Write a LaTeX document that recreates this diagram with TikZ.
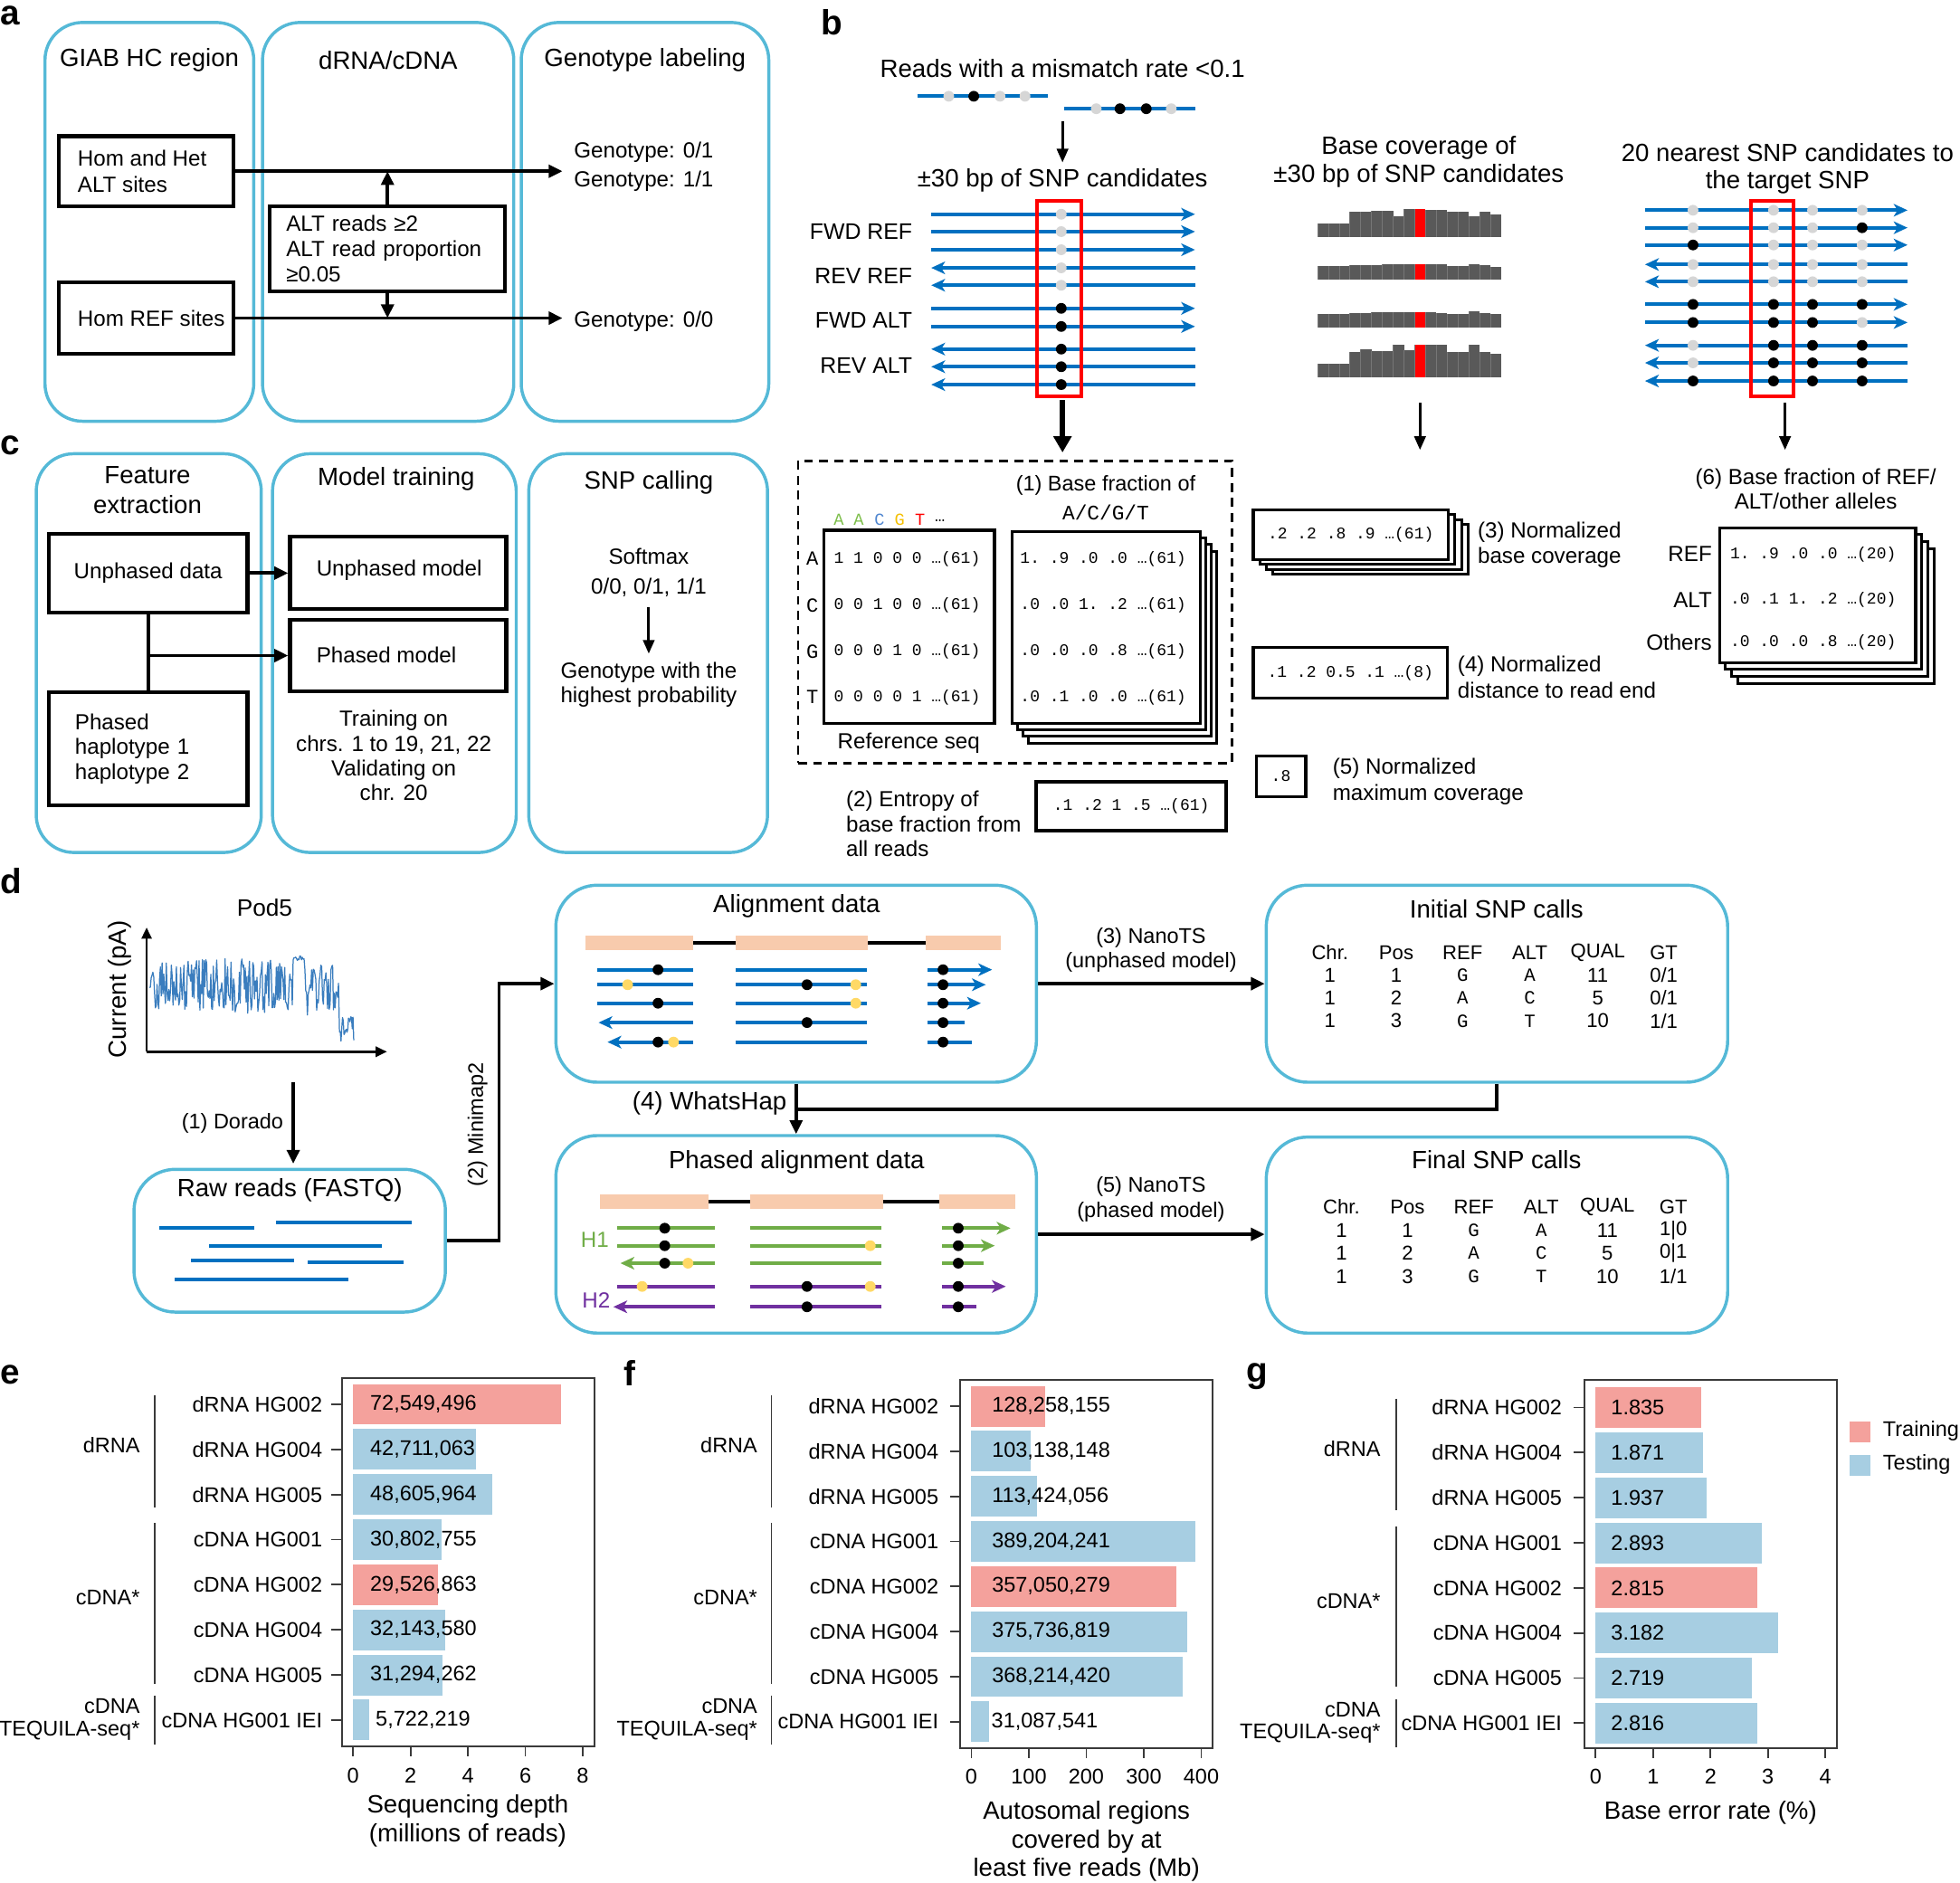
\documentclass[tikz,border=0pt]{standalone}
\usepackage{fontspec}
\setmainfont{Liberation Sans}
\setmonofont{Liberation Mono}
\usetikzlibrary{arrows.meta,calc}
\definecolor{cyanc}{HTML}{55B9D7}
\definecolor{readb}{HTML}{0070C0}
\definecolor{dotg}{HTML}{D6D6D6}
\definecolor{peach}{HTML}{F8CBAD}
\definecolor{hgreen}{HTML}{70AD47}
\definecolor{hpurp}{HTML}{7030A0}
\definecolor{dyel}{HTML}{FFD966}
\definecolor{histc}{HTML}{595959}
\definecolor{histl}{HTML}{767676}
\definecolor{trc}{HTML}{F4A19C}
\definecolor{tec}{HTML}{A7CEE2}
\definecolor{sigc}{HTML}{3A7DBE}
\definecolor{frc}{HTML}{3A3A3A}
\definecolor{lA}{HTML}{7DBE4A}
\definecolor{lC}{HTML}{4F86D0}
\definecolor{lG}{HTML}{F5C000}
\definecolor{redc}{HTML}{FF0000}
\newcommand\fzT{\fontsize{20}{23}\selectfont}
\newcommand\fzN{\fontsize{17.5}{20.5}\selectfont}
\newcommand\fzS{\fontsize{16}{19}\selectfont}
\newcommand\fzB{\fontsize{17}{20}\selectfont}
\newcommand\fzM{\fontsize{13}{15}\selectfont\ttfamily}
\newcommand\fzL{\fontsize{28}{30}\selectfont\bfseries}
\tikzset{
  cbox/.style={draw=cyanc,line width=2.5pt,rounded corners=30pt,inner sep=0pt},
  dbox/.style={draw=cyanc,line width=2.5pt,rounded corners=33pt,inner sep=0pt},
  kbox/.style={draw=black,line width=3pt,inner sep=0pt},
  fbox/.style={draw=black,line width=2.2pt,fill=white,inner sep=0pt},
  arr/.style={line width=2.8pt,-{Triangle[length=11pt,width=10pt]}},
  arrt/.style={line width=2.2pt,-{Triangle[length=11pt,width=9pt]}},
  arrk/.style={line width=4.5pt,-{Triangle[length=13pt,width=14pt]}},
  txt/.style={inner sep=0pt,font=\fzN},
  ttl/.style={inner sep=0pt,font=\fzT},
  lbl/.style={inner sep=0pt,font=\fzL},
  mono/.style={inner sep=0pt,font=\fzM},
  tb/.style={inner sep=0pt,font=\fzS},
  tbm/.style={inner sep=0pt,font=\fontsize{15}{17}\selectfont\ttfamily},
  read/.style={draw=readb,line width=3pt},
  rg/.style={draw=hgreen,line width=3pt},
  rp/.style={draw=hpurp,line width=3pt},
  rdR/.style={-{Stealth[length=11pt,width=10pt,inset=3pt]}},
  rdL/.style={{Stealth[length=11pt,width=10pt,inset=3pt]}-},
  gdot/.style={fill=dotg},
  kdot/.style={fill=black},
  ydot/.style={fill=dyel},
}
\newcommand\mydot[3]{\fill[#1] (#2,#3) circle[radius=4.3pt];}
\newcommand\mystack[7]{%
  \foreach \k in {3,2,1}{\draw[line width=2.2pt,fill=white] ({#2-#4/2+\k*#6},{#3-#5/2+\k*#7}) rectangle ({#2+#4/2+\k*#6},{#3+#5/2+\k*#7});}
  \node[fbox,minimum width=#4pt,minimum height=#5pt] (#1) at (#2,#3) {};}
\newcommand\myhist[2]{%
  \foreach \t [count=\i from 0] in {#2}{\fill[histc] ({1054+8.65*\i},\t) rectangle ({1054+8.65*(\i+1)},#1);
  \draw[histl,line width=0.5pt] ({1054+8.65*\i},\t) -- ({1054+8.65*\i},#1);}}
\newcommand\mybar[8]{%
  \fill[#6] (#2,#4-16.25) rectangle ({#2+#3*#5},#4+16.25);
  \node[font=\fzB,anchor=west,inner sep=0pt] (#1) at (#7,#4) {#8};}
\newcommand\mycat[5]{%
  \draw[frc,line width=1.3pt] (#2-8.2,#3) -- (#2,#3);
  \node[font=\fzB,anchor=east,inner sep=0pt] (#1) at (#4,#3) {#5};}
\newcommand\mytick[5]{%
  \draw[frc,line width=1.3pt] (#2,#3) -- (#2,#3+7.8);
  \node[font=\fzB,inner sep=0pt] (#1) at (#2,#4) {#5};}
\begin{document}
\begin{tikzpicture}[x=1pt,y=-1pt]
\useasboundingbox (0,0) rectangle (1568,1506);
\fill[white] (0,0) rectangle (1568,1506);
% ================= panel a
\node[lbl,anchor=base west] (la) at (0,20) {a};
\node[cbox,minimum width=167pt,minimum height=319pt] (a1) at (119.5,177.5) {};
\node[cbox,minimum width=201pt,minimum height=319pt] (a2) at (310.5,177.5) {};
\node[cbox,minimum width=198pt,minimum height=319pt] (a3) at (516,177.5) {};
\node[ttl] (a1t) at (119.5,48) {GIAB HC region};
\node[ttl] (a2t) at (310.5,48) {dRNA/cDNA};
\node[ttl] (a3t) at (516,48) {Genotype labeling};
\node[kbox,minimum width=140pt,minimum height=56pt] (hh) at (117,137) {};
\node[txt,anchor=west,align=left] (hht) at (62,137) {Hom and Het\\ALT sites};
\node[kbox,minimum width=140pt,minimum height=57pt] (hr) at (117,254.5) {};
\node[txt,anchor=west] (hrt) at (62,254.5) {Hom REF sites};
\node[kbox,text width=162pt,inner xsep=13pt,minimum height=68pt,align=left,font=\fontsize{17.5}{20}\selectfont] (alt) at (310,199) {ALT reads ≥2\\ALT read proportion\\≥0.05};
\node[txt,anchor=west,align=left,font=\fontsize{17.5}{23}\selectfont] (g1) at (459,133.5) {Genotype: 0/1\\Genotype: 1/1};
\node[txt,anchor=west] (g0) at (459,257) {Genotype: 0/0};
\draw[arr] (hh.east) -- ([xshift=-9pt]g1.west |- hh.east);
\draw[arr] (hr.east) -- ([xshift=-9pt]g0.west |- hr.east);
\draw[arr] (alt.north) -- (alt.north |- hh.east);
\draw[arr] (alt.south) -- (alt.south |- hr.east);
% ================= panel c
\node[lbl,anchor=base west] (lc) at (0,364) {c};
\node[cbox,minimum width=180pt,minimum height=319pt] (c1) at (119,522.5) {};
\node[cbox,minimum width=195pt,minimum height=319pt] (c2) at (315.5,522.5) {};
\node[cbox,minimum width=191pt,minimum height=319pt] (c3) at (518.5,522.5) {};
\node[ttl,align=center,font=\fontsize{20}{24}\selectfont] (c1t) at (118,392) {Feature\\extraction};
\node[ttl] (c2t) at (317,383) {Model training};
\node[ttl] (c3t) at (519,386) {SNP calling};
\node[kbox,minimum width=159pt,minimum height=63pt,font=\fzN] (ud) at (118.5,458.5) {Unphased data};
\node[kbox,text width=117pt,inner xsep=21pt,minimum height=90pt,align=left,font=\fontsize{17.5}{20}\selectfont] (pd) at (118.5,599) {Phased\\haplotype 1\\haplotype 2};
\node[kbox,minimum width=173pt,minimum height=58pt] (um) at (318.5,458) {};
\node[txt,anchor=west] (umt) at (253,456.5) {Unphased model};
\node[kbox,minimum width=173pt,minimum height=57pt] (pm) at (318.5,524.5) {};
\node[txt,anchor=west] (pmt) at (253,524) {Phased model};
\draw[arr] (ud.east) -- (ud.east -| um.west);
\draw[line width=2.8pt] (ud.south) -- (pd.north);
\draw[arr] (ud.south |- pm.west) -- (pm.west);
\node[txt,align=center,font=\fontsize{17.5}{19.7}\selectfont] (trn) at (315,604.5) {Training on\\chrs. 1 to 19, 21, 22\\Validating on\\chr. 20};
\node[txt,align=center,font=\fontsize{17.5}{24}\selectfont] (smx) at (519,458) {Softmax\\0/0, 0/1, 1/1};
\node[txt,align=center,font=\fontsize{17.5}{19.5}\selectfont] (ghp) at (519,547.5) {Genotype with the\\highest probability};
\coordinate (sm1) at (519,486);
\coordinate (sm2) at (519,523);
\draw[arrt] (sm1) -- (sm2);
% ================= panel b top
\node[lbl,anchor=base west] (lb) at (657,27.8) {b};
\node[ttl] (bt1) at (850,55) {Reads with a mismatch rate <0.1};
\draw[read] (734,77) -- (838,77);
\mydot{gdot}{759}{77}\mydot{kdot}{779}{77}\mydot{gdot}{800}{77}\mydot{gdot}{820}{77}
\draw[read] (851,87) -- (956,87);
\mydot{gdot}{877}{87}\mydot{kdot}{896}{87}\mydot{kdot}{917}{87}\mydot{gdot}{937}{87}
\coordinate (ba1) at (850,97);
\coordinate (ba2) at (850,130);
\draw[arrt] (ba1) -- (ba2);
\node[ttl] (bt2) at (850,144) {±30 bp of SNP candidates};
\foreach \y/\d/\s in {171.4/rdR/gdot,185.3/rdR/gdot,199.8/rdR/gdot,214.3/rdL/gdot,228.2/rdL/gdot,246.7/rdR/kdot,261.2/rdR/kdot,279.3/rdL/kdot,293.4/rdL/kdot,307.7/rdL/kdot}{
  \draw[read,\d] (745,\y) -- (956,\y);
  \fill[\s] (849,\y) circle[radius=4.3pt];}
\node[draw=redc,line width=3pt,minimum width=35.4pt,minimum height=156.5pt,inner sep=0pt] (rb1) at (847.3,238.75) {};
\node[txt,anchor=east,font=\fontsize{18}{20}\selectfont] (fr) at (730,185) {FWD REF};
\node[txt,anchor=east,font=\fontsize{18}{20}\selectfont] (rr1) at (730,221) {REV REF};
\node[txt,anchor=east,font=\fontsize{18}{20}\selectfont] (fa) at (730,256) {FWD ALT};
\node[txt,anchor=east,font=\fontsize{18}{20}\selectfont] (ra) at (730,292.5) {REV ALT};
% histograms
\node[ttl,align=center,font=\fontsize{20}{23}\selectfont] (bt3) at (1135,129.5) {Base coverage of\\±30 bp of SNP candidates};
\myhist{189.9}{178.6,178.6,178.6,169.6,169.6,168.9,168.9,172.8,167.2,167.2,168.2,168.2,169.6,169.6,172.8,169.4,171.3}
\myhist{223.9}{212.8,212.8,212.8,212.4,212.4,212.4,211.6,211.6,211.6,211.6,211.6,211.6,212.8,212.8,211.6,212.4,213.3}
\myhist{262.3}{251,251,251,250.5,250.5,250,249.5,249.5,249.5,249.5,249.5,250.5,251,251,249,250.5,251.4}
\myhist{302.1}{290.8,290.8,290.8,281.6,279.4,280.9,280.9,275.8,279.9,275.8,275.8,275.8,281.6,281.6,275.8,281.6,283.3}
\fill[redc] (1131.85,167.2) rectangle (1140.5,189.9);
\fill[redc] (1131.85,211.6) rectangle (1140.5,223.9);
\fill[redc] (1131.85,249.5) rectangle (1140.5,262.3);
\fill[redc] (1131.85,275.8) rectangle (1140.5,302.1);
% right reads
\node[ttl,align=center,font=\fontsize{20}{22}\selectfont] (bt4) at (1430,135) {20 nearest SNP candidates to\\the target SNP};
\foreach \y/\d/\p/\q/\r/\s in {168.2/rdR/gdot/gdot/gdot/gdot,182.2/rdR/gdot/gdot/gdot/kdot,196/rdR/kdot/gdot/gdot/gdot,211.6/rdL/gdot/gdot/gdot/gdot,225.4/rdL/gdot/gdot/gdot/gdot,243.5/rdR/kdot/kdot/kdot/kdot,258/rdR/kdot/kdot/kdot/gdot,276.3/rdL/gdot/kdot/kdot/kdot,290.3/rdL/gdot/kdot/kdot/kdot,304.8/rdL/kdot/kdot/kdot/kdot}{
  \draw[read,\d] (1316,\y) -- (1526,\y);
  \fill[\p] (1354.4,\y) circle[radius=4.3pt];
  \fill[\q] (1418.8,\y) circle[radius=4.3pt];
  \fill[\r] (1450,\y) circle[radius=4.3pt];
  \fill[\s] (1489.7,\y) circle[radius=4.3pt];}
\node[draw=redc,line width=3pt,minimum width=34.1pt,minimum height=156.3pt,inner sep=0pt] (rb2) at (1417.75,238.65) {};
% ================= panel b lower
\node[draw=black,line width=2pt,dash pattern=on 7pt off 5pt,minimum width=347pt,minimum height=241.9pt,inner sep=0pt] (dash) at (812,489.55) {};
\draw[arrk] (850,320) -- (850 ,362);
\coordinate (hc1) at (1136,322);
\coordinate (hc2) at (1136,360);
\draw[arrt] (hc1) -- (hc2);
\coordinate (rc1) at (1428,322);
\coordinate (rc2) at (1428,360);
\draw[arrt] (rc1) -- (rc2);
\node[txt,font=\fontsize{17}{20}\selectfont] (bf1) at (884.6,388.6) {(1) Base fraction of};
\node[inner sep=0pt,font=\fontsize{16.5}{18}\selectfont\ttfamily] (bf2) at (884.6,409.9) {A/C/G/T};
\node[inner sep=0pt,font=\fontsize{13.5}{15}\selectfont\ttfamily,text=lA] (s1) at (671,415.7) {A};
\node[inner sep=0pt,font=\fontsize{13.5}{15}\selectfont\ttfamily,text=lA] (s2) at (687,415.7) {A};
\node[inner sep=0pt,font=\fontsize{13.5}{15}\selectfont\ttfamily,text=lC] (s3) at (703.6,415.7) {C};
\node[inner sep=0pt,font=\fontsize{13.5}{15}\selectfont\ttfamily,text=lG] (s4) at (719.7,415.7) {G};
\node[inner sep=0pt,font=\fontsize{13.5}{15}\selectfont\ttfamily,text=redc] (s5) at (736,415.7) {T};
\node[inner sep=0pt,font=\fontsize{13.5}{15}\selectfont\ttfamily] (s6) at (752,416.5) {…};
\node[fbox,line width=2.5pt,minimum width=136.7pt,minimum height=154.4pt] (rs) at (727.35,501.4) {};
\foreach \y/\l/\r [count=\n] in {447.1/A/1 1 0 0 0 …(61),484.5/C/0 0 1 0 0 …(61),521.2/G/0 0 0 1 0 …(61),557.9/T/0 0 0 0 1 …(61)}{
  \node[inner sep=0pt,font=\fontsize{16}{18}\selectfont\ttfamily] (rl\n) at (649.8,\y) {\l};
  \node[mono,anchor=west] (rt\n) at (667,\y) {\r};}
\node[txt] (rsq) at (727,594.8) {Reference seq};
\mystack{bf}{884.75}{501.8}{150.5}{153.6}{4.5}{5.3}
\foreach \y/\r [count=\n] in {447.1/1. .9 .0 .0 …(61),484.5/.0 .0 1. .2 …(61),521.2/.0 .0 .0 .8 …(61),557.9/.0 .1 .0 .0 …(61)}{
  \node[mono,anchor=west] (bt\n) at (816,\y) {\r};}
\node[fbox,line width=2.5pt,minimum width=152pt,minimum height=39.2pt,font=\fzM] (ent) at (905,645.1) {.1 .2 1 .5 …(61)};
\node[txt,anchor=west,align=left,font=\fontsize{17.5}{19.8}\selectfont] (entl) at (676.7,659.1) {(2) Entropy of\\base fraction from\\all reads};
\mystack{nc}{1080.6}{427.7}{156}{39.8}{5.3}{4}
\node[mono] (nct) at (1080.6,427.7) {.2 .2 .8 .9 …(61)};
\node[txt,anchor=west,align=left,font=\fontsize{17.5}{20.7}\selectfont] (ncl) at (1182,436) {(3) Normalized\\base coverage};
\node[fbox,minimum width=155.3pt,minimum height=40.3pt,font=\fzM] (nd) at (1080.25,538.45) {.1 .2 0.5 .1 …(8)};
\node[txt,anchor=west,align=left,font=\fontsize{17.5}{20.8}\selectfont] (ndl) at (1166,541.7) {(4) Normalized\\distance to read end};
\node[fbox,minimum width=39.8pt,minimum height=33pt,font=\fzM] (nm) at (1024.7,621) {.8};
\node[txt,anchor=west,align=left,font=\fontsize{17.5}{21}\selectfont] (nml) at (1066,625.3) {(5) Normalized\\maximum coverage};
\node[txt,align=center,font=\fontsize{17.5}{19.7}\selectfont] (b6t) at (1452.6,391) {(6) Base fraction of REF/\\ALT/other alleles};
\mystack{b6}{1454}{476.2}{157}{107.8}{4.9}{5.5}
\foreach \y/\l/\r [count=\n] in {443.5/REF/1. .9 .0 .0 …(20),480.2/ALT/.0 .1 1. .2 …(20),514/Others/.0 .0 .0 .8 …(20)}{
  \node[txt,anchor=east] (sl\n) at (1369.7,\y) {\l};
  \node[mono,anchor=west] (st\n) at (1384,\y) {\r};}
% ================= panel d
\node[lbl,anchor=base west] (ld) at (0,715) {d};
\node[txt,font=\fontsize{19}{21}\selectfont] (pod) at (211.7,726.3) {Pod5};
\coordinate (ax0) at (117.3,841.4);
\coordinate (axy) at (117.3,742);
\coordinate (axx) at (309.6,841.4);
\draw[line width=2pt,-{Triangle[length=9pt,width=8pt]}] (ax0) -- (axy);
\draw[line width=2pt,-{Triangle[length=9pt,width=8pt]}] (ax0) -- (axx);
\node[txt,rotate=90,font=\fontsize{20}{22}\selectfont] (cur) at (95.9,791.5) {Current (pA)};
\pgfmathsetseed{11}
\draw[sigc,line width=0.9pt,line join=round] (119.6,790)
  \foreach \i in {1,...,170}{ -- ({119.6+0.672*\i},{789+22*rand}) }
  \foreach \i in {171,...,184}{ -- ({119.6+0.672*\i},{767+2.5*rand}) }
  \foreach \i in {185,...,225}{ -- ({119.6+0.672*\i},{792+21*rand}) }
  \foreach \i in {1,...,20}{ -- ({271+0.6*\i},{823+10*rand}) };
\node[txt,font=\fontsize{17}{20}\selectfont] (dor) at (186,898.4) {(1) Dorado};
\node[dbox,minimum width=249.1pt,minimum height=114.2pt] (raw) at (231.75,992.6) {};
\coordinate (dr1) at (234.6,865.8);
\coordinate (dr2) at (234.6,931);
\draw[arr] (dr1) -- (dr2);
\node[ttl] (rawt) at (231.8,952) {Raw reads (FASTQ)};
\draw[read] (127.5,982.1) -- (203.2,982.1);
\draw[read] (221,977.8) -- (329.5,977.8);
\draw[read] (167.2,996.6) -- (305.6,996.6);
\draw[read] (153.1,1008.6) -- (235.5,1008.6);
\draw[read] (246.4,1010) -- (323,1010);
\draw[read] (140,1023.4) -- (278.4,1023.4);
\node[dbox,minimum width=384.4pt,minimum height=157.6pt] (al) at (636.9,787) {};
\node[dbox,minimum width=384.4pt,minimum height=158pt] (ph) at (636.9,987.5) {};
\node[dbox,minimum width=369.1pt,minimum height=157.6pt] (is) at (1197.55,787) {};
\node[dbox,minimum width=369.1pt,minimum height=156.8pt] (fs) at (1197.55,988.1) {};
\coordinate (mm) at (399.2,900);
\draw[arr,line join=miter] (raw.east) -| (mm) |- (al.west);
\node[txt,rotate=90,font=\fontsize{17}{20}\selectfont] (mmt) at (382,900) {(2) Minimap2};
\node[ttl] (alt2) at (637.3,725.1) {Alignment data};
\fill[peach] (468.2,748.5) rectangle (554.8,760.1);
\fill[peach] (588.5,748.5) rectangle (694.4,760.1);
\fill[peach] (740.2,748.5) rectangle (800.4,760.1);
\draw[line width=2.5pt] (554.8,754.3) -- (588.5,754.3);
\draw[line width=2.5pt] (694.4,754.3) -- (740.2,754.3);
% group 1
\draw[read] (478,775.8) -- (554.8,775.8); \mydot{kdot}{526.4}{775.8}
\draw[read] (478,787.8) -- (554.8,787.8); \mydot{ydot}{502.1}{787.8}
\draw[read] (478,802.6) -- (554.8,802.6); \mydot{kdot}{526.4}{802.6}
\draw[read,rdL] (478.8,818.1) -- (554.8,818.1);
\draw[read,rdL] (486,833.7) -- (554.8,833.7); \mydot{kdot}{526.4}{833.7}\mydot{ydot}{538.8}{833.7}
% group 2
\draw[read] (588.5,775.8) -- (693.4,775.8);
\draw[read] (588.5,787.8) -- (693.4,787.8); \mydot{kdot}{645.6}{787.8}\mydot{ydot}{684.6}{787.8}
\draw[read] (588.5,802.6) -- (693.4,802.6); \mydot{ydot}{684.6}{802.6}
\draw[read] (588.5,818.1) -- (693.4,818.1); \mydot{kdot}{645.6}{818.1}
\draw[read] (588.5,833.7) -- (693.4,833.7);
% group 3
\draw[read,rdR] (742,775.8) -- (793.7,775.8); \mydot{kdot}{754.4}{775.8}
\draw[read,rdR] (742,787.8) -- (788.6,787.8); \mydot{kdot}{754.4}{787.8}
\draw[read,rdR] (742,802.6) -- (784.7,802.6); \mydot{kdot}{754.4}{802.6}
\draw[read] (742,818.1) -- (771.7,818.1); \mydot{kdot}{754.4}{818.1}
\draw[read] (742,833.7) -- (777.7,833.7); \mydot{kdot}{754.4}{833.7}
% whatshap
\coordinate (wh) at (636.9,887.3);
\draw[line width=3pt] (is.south) |- (wh);
\draw[arr] (al.south) -- (ph.north);
\node[ttl,anchor=east] (wht) at (629.5,882.7) {(4) WhatsHap};
\node[ttl] (pht) at (637.3,929.5) {Phased alignment data};
\fill[peach] (479.9,955.6) rectangle (566.5,967);
\fill[peach] (599.8,955.6) rectangle (706.3,967);
\fill[peach] (751.6,955.6) rectangle (812.1,967);
\draw[line width=2.5pt] (566.5,961.3) -- (599.8,961.3);
\draw[line width=2.5pt] (706.3,961.3) -- (751.6,961.3);
\draw[rg] (493.8,982.6) -- (571.6,982.6); \mydot{kdot}{531.8}{982.6}
\draw[rg] (493.8,996.6) -- (571.6,996.6); \mydot{kdot}{531.8}{996.6}
\draw[rg,rdL] (496.4,1010.6) -- (571.6,1010.6); \mydot{kdot}{531.8}{1010.6}\mydot{ydot}{550.4}{1010.6}
\draw[rp] (493.8,1029.2) -- (571.6,1029.2); \mydot{ydot}{513.7}{1029.2}
\draw[rp,rdL] (490.7,1045.5) -- (571.6,1045.5);
\draw[rg] (599.8,982.6) -- (704.8,982.6);
\draw[rg] (599.8,996.6) -- (704.8,996.6); \mydot{ydot}{696.2}{996.6}
\draw[rg] (599.8,1010.6) -- (704.8,1010.6);
\draw[rp] (599.8,1029.2) -- (704.8,1029.2); \mydot{kdot}{645.6}{1029.2}\mydot{ydot}{696.2}{1029.2}
\draw[rp] (599.8,1045.5) -- (704.8,1045.5); \mydot{kdot}{645.6}{1045.5}
\draw[rg,rdR] (753.6,982.6) -- (808.4,982.6); \mydot{kdot}{766.6}{982.6}
\draw[rg,rdR] (753.6,996.6) -- (795.8,996.6); \mydot{kdot}{766.6}{996.6}
\draw[rg] (753.6,1010.6) -- (787.2,1010.6); \mydot{kdot}{766.6}{1010.6}
\draw[rp,rdR] (753.6,1029.2) -- (804.6,1029.2); \mydot{kdot}{766.6}{1029.2}
\draw[rp] (753.6,1045.5) -- (780.8,1045.5); \mydot{kdot}{766.6}{1045.5}
\node[txt,text=hgreen] (h1) at (475.8,991.8) {H1};
\node[txt,text=hpurp] (h2) at (477,1040) {H2};
% nanots arrows
\draw[arr] (al.east) -- (is.west);
\draw[arr] (ph.east) -- (ph.east -| fs.west);
\node[txt,align=center,font=\fontsize{17}{19.7}\selectfont] (n3) at (920.8,759.9) {(3) NanoTS\\(unphased model)};
\node[txt,align=center,font=\fontsize{17}{20}\selectfont] (n5) at (920.8,959.5) {(5) NanoTS\\(phased model)};
\node[ttl] (ist) at (1197.2,727.5) {Initial SNP calls};
\node[ttl] (fst) at (1197.2,927.8) {Final SNP calls};
% initial table
\foreach \x/\h [count=\n] in {1064/Chr.,1117/Pos,1170/REF,1223.9/ALT,1278.2/QUAL,1331/GT}{\node[tb] (ih\n) at (\x,762) {\h};}
\foreach \y [count=\n] in {780.1,798.2,816.8}{\node[tb] (ic\n) at (1064,\y) {1};\node[tb] (ip\n) at (1117,\y) {\n};}
\node[tbm] (ir1) at (1170,780.1) {G};\node[tbm] (ir2) at (1170,798.2) {A};\node[tbm] (ir3) at (1170,816.8) {G};
\node[tbm] (ia1) at (1223.9,780.1) {A};\node[tbm] (ia2) at (1223.9,798.2) {C};\node[tbm] (ia3) at (1223.9,816.8) {T};
\node[tb] (iq1) at (1278.2,780.1) {11};\node[tb] (iq2) at (1278.2,798.2) {5};\node[tb] (iq3) at (1278.2,816.8) {10};
\node[tb] (ig1) at (1331,780.1) {0/1};\node[tb] (ig2) at (1331,798.2) {0/1};\node[tb] (ig3) at (1331,816.8) {1/1};
% final table
\foreach \x/\h [count=\n] in {1073.2/Chr.,1126/Pos,1179/REF,1233/ALT,1285.9/QUAL,1338.7/GT}{\node[tb] (fh\n) at (\x,965.7) {\h};}
\foreach \y [count=\n] in {984.5,1002.6,1021.2}{\node[tb] (fc\n) at (1073.2,\y) {1};\node[tb] (fp\n) at (1126,\y) {\n};}
\node[tbm] (fr1) at (1179,984.5) {G};\node[tbm] (fr2) at (1179,1002.6) {A};\node[tbm] (fr3) at (1179,1021.2) {G};
\node[tbm] (fa1) at (1233,984.5) {A};\node[tbm] (fa2) at (1233,1002.6) {C};\node[tbm] (fa3) at (1233,1021.2) {T};
\node[tb] (fq1) at (1285.9,984.5) {11};\node[tb] (fq2) at (1285.9,1002.6) {5};\node[tb] (fq3) at (1285.9,1021.2) {10};
\node[tb] (fg1) at (1338.7,984.5) {1|0};\node[tb] (fg2) at (1338.7,1002.6) {0|1};\node[tb] (fg3) at (1338.7,1021.2) {1/1};
% ================= panel e
\node[lbl,anchor=base west] (le) at (0,1107.5) {e};
\node[draw=frc,line width=1.5pt,minimum width=202.2pt,minimum height=294.7pt,inner sep=0pt] (ef) at (374.5,1249.75) {};
\mybar{e1}{282.5}{22.96}{1123.5}{7.2549}{trc}{296}{72,549,496}
\mybar{e2}{282.5}{22.96}{1159.6}{4.2711}{tec}{296}{42,711,063}
\mybar{e3}{282.5}{22.96}{1195.7}{4.8606}{tec}{296}{48,605,964}
\mybar{e4}{282.5}{22.96}{1231.7}{3.0803}{tec}{296}{30,802,755}
\mybar{e5}{282.5}{22.96}{1267.8}{2.9527}{trc}{296}{29,526,863}
\mybar{e6}{282.5}{22.96}{1303.9}{3.2144}{tec}{296}{32,143,580}
\mybar{e7}{282.5}{22.96}{1340.0}{3.1294}{tec}{296}{31,294,262}
\mybar{e8}{282.5}{22.96}{1376.1}{0.5722}{tec}{300.4}{5,722,219}
\mycat{ec1}{273.4}{1123.5}{258}{dRNA HG002}
\mycat{ec2}{273.4}{1159.6}{258}{dRNA HG004}
\mycat{ec3}{273.4}{1195.7}{258}{dRNA HG005}
\mycat{ec4}{273.4}{1231.7}{258}{cDNA HG001}
\mycat{ec5}{273.4}{1267.8}{258}{cDNA HG002}
\mycat{ec6}{273.4}{1303.9}{258}{cDNA HG004}
\mycat{ec7}{273.4}{1340.0}{258}{cDNA HG005}
\mycat{ec8}{273.4}{1376.1}{258}{cDNA HG001 IEI}
\mytick{ex0}{282.5}{1397.1}{1420.4}{0}
\mytick{ex1}{328.4}{1397.1}{1420.4}{2}
\mytick{ex2}{374.3}{1397.1}{1420.4}{4}
\mytick{ex3}{420.3}{1397.1}{1420.4}{6}
\mytick{ex4}{466.2}{1397.1}{1420.4}{8}
\draw[frc,line width=1.3pt] (123.7,1116.3) -- (123.7,1205.7);
\draw[frc,line width=1.3pt] (123.7,1218.4) -- (123.7,1347.5);
\draw[frc,line width=1.3pt] (123.7,1356.6) -- (123.7,1395.5);
\node[font=\fzB,anchor=east,inner sep=0pt] (eg1) at (112,1156) {dRNA};
\node[font=\fzB,anchor=east,inner sep=0pt] (eg2) at (112,1278) {cDNA*};
\node[font=\fzB,anchor=east,inner sep=0pt] (eg3) at (112,1364.6) {cDNA};
\node[font=\fzB,anchor=east,inner sep=0pt] (eg4) at (112,1384.9) {TEQUILA-seq*};
\node[align=center,inner sep=0pt,font=\fontsize{20}{22.8}\selectfont] (ext) at (374.2,1456.8) {Sequencing depth\\(millions of reads)};
% ================= panel f
\node[lbl,anchor=base west] (lf) at (499,1109) {f};
\node[draw=frc,line width=1.5pt,minimum width=202pt,minimum height=295pt,inner sep=0pt] (ff) at (869.2,1251.3) {};
\mybar{f1}{777.1}{0.4597}{1125.0}{128.258}{trc}{793.4}{128,258,155}
\mybar{f2}{777.1}{0.4597}{1161.1}{103.138}{tec}{793.4}{103,138,148}
\mybar{f3}{777.1}{0.4597}{1197.1}{113.424}{tec}{793.4}{113,424,056}
\mybar{f4}{777.1}{0.4597}{1233.2}{389.204}{tec}{793.4}{389,204,241}
\mybar{f5}{777.1}{0.4597}{1269.2}{357.050}{trc}{793.4}{357,050,279}
\mybar{f6}{777.1}{0.4597}{1305.3}{375.737}{tec}{793.4}{375,736,819}
\mybar{f7}{777.1}{0.4597}{1341.4}{368.214}{tec}{793.4}{368,214,420}
\mybar{f8}{777.1}{0.4597}{1377.4}{31.088}{tec}{793}{31,087,541}
\mycat{fc1}{768.2}{1125.0}{751}{dRNA HG002}
\mycat{fc2}{768.2}{1161.1}{751}{dRNA HG004}
\mycat{fc3}{768.2}{1197.1}{751}{dRNA HG005}
\mycat{fc4}{768.2}{1233.2}{751}{cDNA HG001}
\mycat{fc5}{768.2}{1269.2}{751}{cDNA HG002}
\mycat{fc6}{768.2}{1305.3}{751}{cDNA HG004}
\mycat{fc7}{768.2}{1341.4}{751}{cDNA HG005}
\mycat{fc8}{768.2}{1377.4}{751}{cDNA HG001 IEI}
\mytick{fx0}{777.1}{1398.8}{1421.5}{0}
\mytick{fx1}{823.1}{1398.8}{1421.5}{100}
\mytick{fx2}{869.0}{1398.8}{1421.5}{200}
\mytick{fx3}{915.0}{1398.8}{1421.5}{300}
\mytick{fx4}{961.0}{1398.8}{1421.5}{400}
\draw[frc,line width=1.3pt] (617.2,1116.3) -- (617.2,1205.7);
\draw[frc,line width=1.3pt] (617.2,1218.4) -- (617.2,1347.5);
\draw[frc,line width=1.3pt] (617.2,1356.6) -- (617.2,1395.5);
\node[font=\fzB,anchor=east,inner sep=0pt] (fg1) at (606,1156) {dRNA};
\node[font=\fzB,anchor=east,inner sep=0pt] (fg2) at (606,1278) {cDNA*};
\node[font=\fzB,anchor=east,inner sep=0pt] (fg3) at (606,1364.6) {cDNA};
\node[font=\fzB,anchor=east,inner sep=0pt] (fg4) at (606,1384.9) {TEQUILA-seq*};
\node[align=center,inner sep=0pt,font=\fontsize{20}{22.9}\selectfont] (fxt) at (869.2,1473.3) {Autosomal regions\\covered by at\\least five reads (Mb)};
% ================= panel g
\node[lbl,anchor=base west] (lg) at (997,1105.5) {g};
\node[draw=frc,line width=1.5pt,minimum width=202.1pt,minimum height=295pt,inner sep=0pt] (gf) at (1368.45,1251.3) {};
\mybar{g1}{1276.5}{45.95}{1126.0}{1.835}{trc}{1288.7}{1.835}
\mybar{g2}{1276.5}{45.95}{1162.1}{1.871}{tec}{1288.7}{1.871}
\mybar{g3}{1276.5}{45.95}{1198.2}{1.937}{tec}{1288.7}{1.937}
\mybar{g4}{1276.5}{45.95}{1234.3}{2.893}{tec}{1288.7}{2.893}
\mybar{g5}{1276.5}{45.95}{1270.4}{2.815}{trc}{1288.7}{2.815}
\mybar{g6}{1276.5}{45.95}{1306.5}{3.182}{tec}{1288.7}{3.182}
\mybar{g7}{1276.5}{45.95}{1342.5}{2.719}{tec}{1288.7}{2.719}
\mybar{g8}{1276.5}{45.95}{1378.6}{2.816}{tec}{1288.7}{2.816}
\mycat{gc1}{1267.4}{1126.0}{1249.7}{dRNA HG002}
\mycat{gc2}{1267.4}{1162.1}{1249.7}{dRNA HG004}
\mycat{gc3}{1267.4}{1198.2}{1249.7}{dRNA HG005}
\mycat{gc4}{1267.4}{1234.3}{1249.7}{cDNA HG001}
\mycat{gc5}{1267.4}{1270.4}{1249.7}{cDNA HG002}
\mycat{gc6}{1267.4}{1306.5}{1249.7}{cDNA HG004}
\mycat{gc7}{1267.4}{1342.5}{1249.7}{cDNA HG005}
\mycat{gc8}{1267.4}{1378.6}{1249.7}{cDNA HG001 IEI}
\mytick{gx0}{1276.5}{1398.8}{1421.5}{0}
\mytick{gx1}{1322.45}{1398.8}{1421.5}{1}
\mytick{gx2}{1368.4}{1398.8}{1421.5}{2}
\mytick{gx3}{1414.35}{1398.8}{1421.5}{3}
\mytick{gx4}{1460.3}{1398.8}{1421.5}{4}
\draw[frc,line width=1.3pt] (1116.7,1119) -- (1116.7,1208.2);
\draw[frc,line width=1.3pt] (1116.7,1221.3) -- (1116.7,1349.7);
\draw[frc,line width=1.3pt] (1116.7,1359.4) -- (1116.7,1398.2);
\node[font=\fzB,anchor=east,inner sep=0pt] (gg1) at (1104.5,1158.8) {dRNA};
\node[font=\fzB,anchor=east,inner sep=0pt] (gg2) at (1104.5,1280.9) {cDNA*};
\node[font=\fzB,anchor=east,inner sep=0pt] (gg3) at (1104.5,1367.7) {cDNA};
\node[font=\fzB,anchor=east,inner sep=0pt] (gg4) at (1104.5,1387.1) {TEQUILA-seq*};
\node[inner sep=0pt,font=\fontsize{20}{22.9}\selectfont] (gxt) at (1368.4,1450.2) {Base error rate (\%)};
\fill[trc] (1479.8,1137.1) rectangle (1496.3,1153.8);
\fill[tec] (1479.8,1163.7) rectangle (1496.3,1180.4);
\node[font=\fzB,anchor=west,inner sep=0pt] (lgt) at (1506.2,1145) {Training};
\node[font=\fzB,anchor=west,inner sep=0pt] (lgs) at (1506.2,1171.8) {Testing};
\end{tikzpicture}
\end{document}
